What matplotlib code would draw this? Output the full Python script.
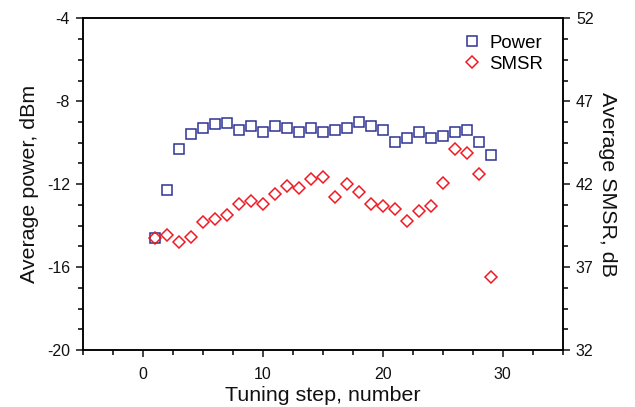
import matplotlib
matplotlib.use("Agg")
import matplotlib.pyplot as plt
import numpy as np
from matplotlib.ticker import MultipleLocator

plt.rcParams["font.family"] = ["Liberation Sans", "DejaVu Sans"]
plt.rcParams["axes.unicode_minus"] = False

# tuning steps and read-off values
steps = list(range(1, 30))
power_dbm = [-14.61, -12.28, -10.30, -9.60, -9.31, -9.11, -9.06, -9.39, -9.19, -9.48,
             -9.19, -9.29, -9.48, -9.29, -9.48, -9.39, -9.28, -9.00, -9.19, -9.39,
             -9.98, -9.79, -9.50, -9.77, -9.69, -9.50, -9.39, -9.98, -10.61]
smsr_db = [38.73, 38.93, 38.49, 38.80, 39.70, 39.88, 40.12, 40.78, 41.00, 40.78,
           41.39, 41.91, 41.78, 42.29, 42.41, 41.22, 42.00, 41.50, 40.78, 40.68,
           40.48, 39.80, 40.38, 40.68, 42.10, 44.10, 43.90, 42.61, 36.38]
smsr_ticks = [32, 37, 42, 47, 52]

BLUE = "#2E3192"
RED = "#ED1C24"

fig = plt.figure(figsize=(6.35, 4.07), dpi=100)
ax = fig.add_axes([0.1312, 0.140, 0.755, 0.815])
ax2 = ax.twinx()

ax.plot(steps, power_dbm, ls="none", marker="s", ms=7.2, mfc="none", mec=BLUE, mew=1.1, label="Power")
ax2.plot(steps, smsr_db, ls="none", marker="D", ms=6.3, mfc="none", mec=RED, mew=1.1, label="SMSR")

ax.set_xlim(-5, 35)
ax.set_ylim(-20, -4)
ax2.set_ylim(32, 52)
ax.xaxis.set_major_locator(MultipleLocator(10))
ax.xaxis.set_minor_locator(MultipleLocator(2.5))
ax.yaxis.set_major_locator(MultipleLocator(4))
ax.yaxis.set_minor_locator(MultipleLocator(1))
ax2.set_yticks(smsr_ticks)
ax2.set_yticks(np.arange(32, 52.01, 1.25), minor=True)

for a in (ax, ax2):
    for s in a.spines.values():
        s.set_linewidth(1.1)
    a.tick_params(which="major", direction="out", length=5, width=1.1, labelsize=11.5, colors="#111111")
    a.tick_params(which="minor", direction="out", length=3.5, width=1.1)
ax.tick_params(axis="x", pad=7)
ax.tick_params(axis="y", pad=4.5)
ax2.tick_params(axis="y", pad=4.5)

ax.set_xlabel("Tuning step, number", fontsize=15.4, color="#111111", labelpad=3)
ax.set_ylabel("Average power, dBm", fontsize=15.4, color="#111111", labelpad=6)
ax2.set_ylabel("Average SMSR, dB", fontsize=15.4, color="#111111", rotation=270, labelpad=17)

h1, l1 = ax.get_legend_handles_labels()
h2, l2 = ax2.get_legend_handles_labels()
ax2.legend(h1 + h2, l1 + l2, loc="upper right", bbox_to_anchor=(0.99, 0.995), frameon=False,
           fontsize=13.4, handletextpad=0.3, handlelength=1.2, labelspacing=0.2, borderpad=0.3)

fig.savefig("out.png", dpi=100)
